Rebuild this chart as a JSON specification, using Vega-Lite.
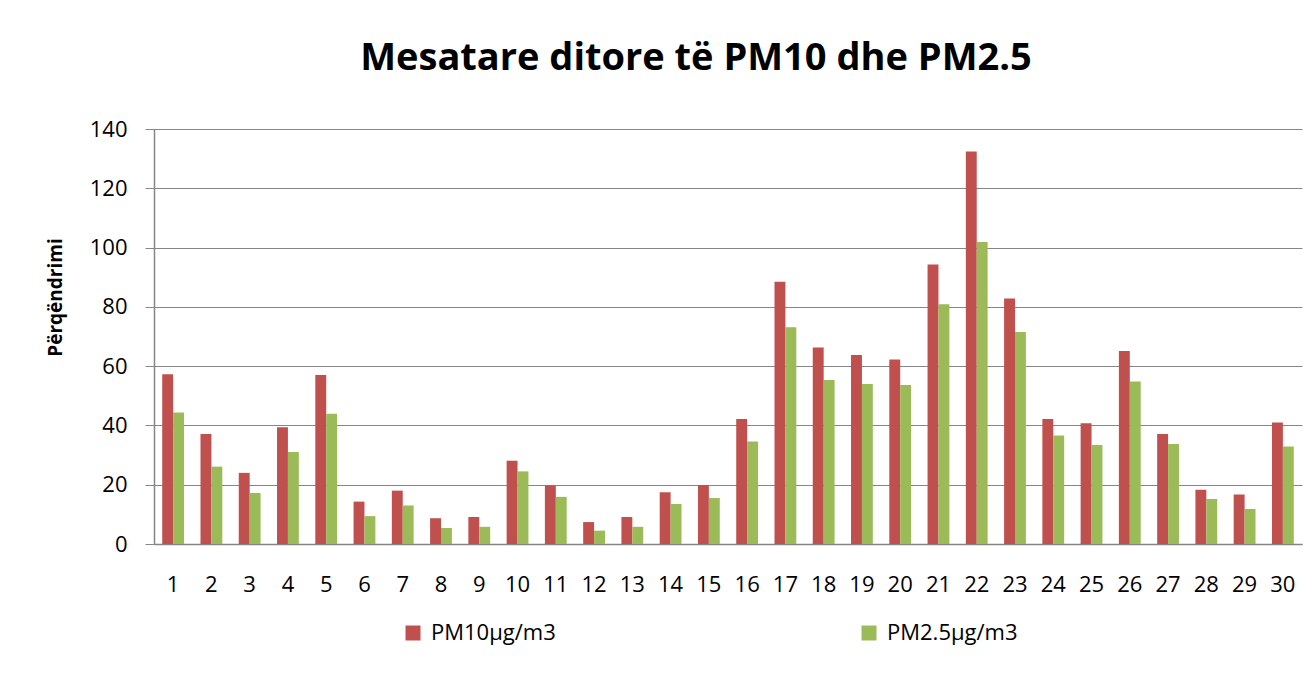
{
  "$schema": "https://vega.github.io/schema/vega-lite/v6.json",
  "width": 1148,
  "height": 415,
  "autosize": {"type": "none"},
  "padding": {"left": 154, "top": 129, "right": 10, "bottom": 148},
  "background": "white",
  "title": {
    "text": "Mesatare ditore të PM10 dhe PM2.5",
    "font": "Open Sans",
    "fontSize": 38,
    "fontWeight": "bold",
    "color": "#000000",
    "anchor": "middle",
    "frame": "group",
    "offset": 40,
    "dx": -32
  },
  "data": {
    "values": [
      {"day": "1", "series": "PM10µg/m3", "value": 57.3}, {"day": "1", "series": "PM2.5µg/m3", "value": 44.4},
      {"day": "2", "series": "PM10µg/m3", "value": 37.1}, {"day": "2", "series": "PM2.5µg/m3", "value": 26.1},
      {"day": "3", "series": "PM10µg/m3", "value": 24.0}, {"day": "3", "series": "PM2.5µg/m3", "value": 17.2},
      {"day": "4", "series": "PM10µg/m3", "value": 39.4}, {"day": "4", "series": "PM2.5µg/m3", "value": 31.0},
      {"day": "5", "series": "PM10µg/m3", "value": 57.0}, {"day": "5", "series": "PM2.5µg/m3", "value": 43.9},
      {"day": "6", "series": "PM10µg/m3", "value": 14.3}, {"day": "6", "series": "PM2.5µg/m3", "value": 9.4},
      {"day": "7", "series": "PM10µg/m3", "value": 18.0}, {"day": "7", "series": "PM2.5µg/m3", "value": 13.0},
      {"day": "8", "series": "PM10µg/m3", "value": 8.7}, {"day": "8", "series": "PM2.5µg/m3", "value": 5.4},
      {"day": "9", "series": "PM10µg/m3", "value": 9.1}, {"day": "9", "series": "PM2.5µg/m3", "value": 5.8},
      {"day": "10", "series": "PM10µg/m3", "value": 28.1}, {"day": "10", "series": "PM2.5µg/m3", "value": 24.5},
      {"day": "11", "series": "PM10µg/m3", "value": 19.7}, {"day": "11", "series": "PM2.5µg/m3", "value": 15.9},
      {"day": "12", "series": "PM10µg/m3", "value": 7.4}, {"day": "12", "series": "PM2.5µg/m3", "value": 4.5},
      {"day": "13", "series": "PM10µg/m3", "value": 9.1}, {"day": "13", "series": "PM2.5µg/m3", "value": 5.8},
      {"day": "14", "series": "PM10µg/m3", "value": 17.5}, {"day": "14", "series": "PM2.5µg/m3", "value": 13.5},
      {"day": "15", "series": "PM10µg/m3", "value": 19.9}, {"day": "15", "series": "PM2.5µg/m3", "value": 15.5},
      {"day": "16", "series": "PM10µg/m3", "value": 42.2}, {"day": "16", "series": "PM2.5µg/m3", "value": 34.6},
      {"day": "17", "series": "PM10µg/m3", "value": 88.5}, {"day": "17", "series": "PM2.5µg/m3", "value": 73.1},
      {"day": "18", "series": "PM10µg/m3", "value": 66.3}, {"day": "18", "series": "PM2.5µg/m3", "value": 55.3},
      {"day": "19", "series": "PM10µg/m3", "value": 63.8}, {"day": "19", "series": "PM2.5µg/m3", "value": 54.0},
      {"day": "20", "series": "PM10µg/m3", "value": 62.2}, {"day": "20", "series": "PM2.5µg/m3", "value": 53.6},
      {"day": "21", "series": "PM10µg/m3", "value": 94.3}, {"day": "21", "series": "PM2.5µg/m3", "value": 80.9},
      {"day": "22", "series": "PM10µg/m3", "value": 132.4}, {"day": "22", "series": "PM2.5µg/m3", "value": 101.9},
      {"day": "23", "series": "PM10µg/m3", "value": 82.8}, {"day": "23", "series": "PM2.5µg/m3", "value": 71.5},
      {"day": "24", "series": "PM10µg/m3", "value": 42.2}, {"day": "24", "series": "PM2.5µg/m3", "value": 36.6},
      {"day": "25", "series": "PM10µg/m3", "value": 40.7}, {"day": "25", "series": "PM2.5µg/m3", "value": 33.4},
      {"day": "26", "series": "PM10µg/m3", "value": 65.1}, {"day": "26", "series": "PM2.5µg/m3", "value": 54.8},
      {"day": "27", "series": "PM10µg/m3", "value": 37.1}, {"day": "27", "series": "PM2.5µg/m3", "value": 33.7},
      {"day": "28", "series": "PM10µg/m3", "value": 18.3}, {"day": "28", "series": "PM2.5µg/m3", "value": 15.2},
      {"day": "29", "series": "PM10µg/m3", "value": 16.7}, {"day": "29", "series": "PM2.5µg/m3", "value": 11.8},
      {"day": "30", "series": "PM10µg/m3", "value": 41.0}, {"day": "30", "series": "PM2.5µg/m3", "value": 32.9}
    ]
  },
  "mark": {"type": "bar"},
  "encoding": {
    "x": {
      "field": "day",
      "type": "ordinal",
      "sort": null,
      "scale": {"paddingInner": 0.43, "paddingOuter": 0.215},
      "axis": {
        "title": null,
        "labelAngle": 0,
        "ticks": false,
        "domainColor": "#868686",
        "domainWidth": 1.5,
        "labelFont": "Open Sans",
        "labelFontSize": 22,
        "labelColor": "#000000",
        "labelPadding": 30,
        "grid": false
      }
    },
    "xOffset": {"field": "series", "sort": ["PM10µg/m3", "PM2.5µg/m3"]},
    "y": {
      "field": "value",
      "type": "quantitative",
      "scale": {"domain": [0, 140], "nice": false},
      "axis": {
        "values": [0, 20, 40, 60, 80, 100, 120, 140],
        "title": "Përqëndrimi",
        "titleFont": "Open Sans",
        "titleFontSize": 19,
        "titleFontWeight": "bold",
        "titleColor": "#000000",
        "titleX": -99,
        "titleY": 168,
        "titleAngle": -90,
        "titleAlign": "center",
        "titleBaseline": "middle",
        "domainColor": "#868686",
        "domainWidth": 1.5,
        "tickColor": "#868686",
        "tickSize": 9,
        "gridColor": "#868686",
        "gridWidth": 1.2,
        "labelFont": "Open Sans",
        "labelFontSize": 22,
        "labelColor": "#000000",
        "labelPadding": 18
      }
    },
    "color": {
      "field": "series",
      "type": "nominal",
      "scale": {"domain": ["PM10µg/m3", "PM2.5µg/m3"], "range": ["#C0504D", "#9BBB59"]},
      "legend": {
        "title": null,
        "orient": "none",
        "legendX": 248,
        "legendY": 493,
        "direction": "horizontal",
        "symbolType": "square",
        "symbolSize": 225,
        "symbolStrokeWidth": 0,
        "labelFont": "Open Sans",
        "labelFontSize": 22,
        "labelColor": "#000000",
        "labelOffset": 7,
        "columnPadding": 302,
        "padding": 0
      }
    }
  },
  "config": {"view": {"stroke": null}}
}
